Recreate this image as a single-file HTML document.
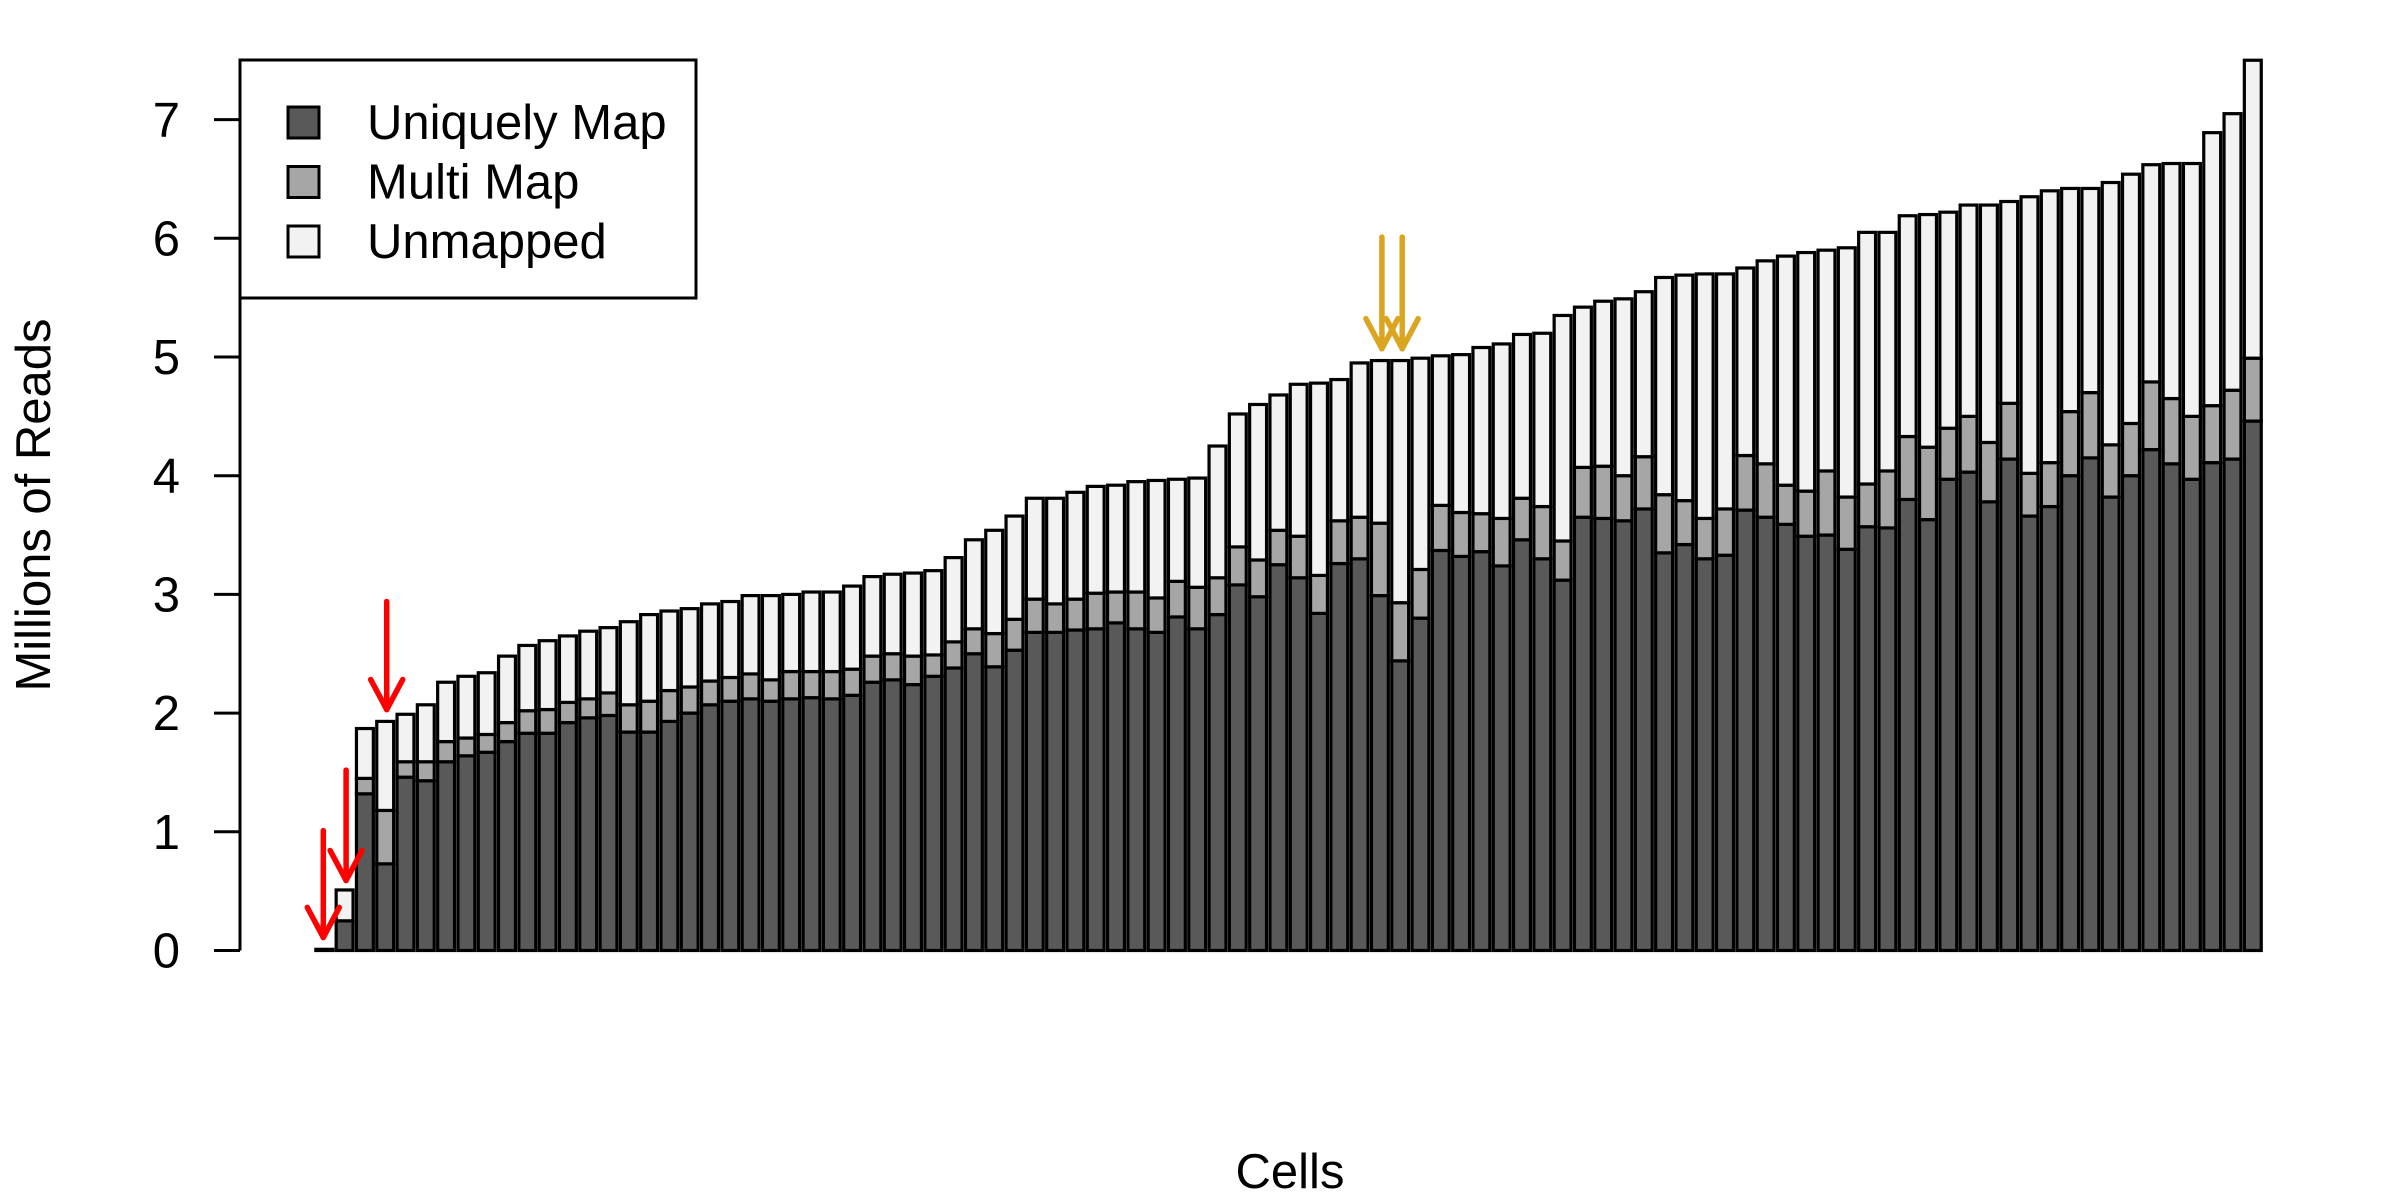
<!DOCTYPE html>
<html>
<head>
<meta charset="utf-8">
<style>
  html, body { margin: 0; padding: 0; background: #fff; }
  svg { display: block; font-family: "Liberation Sans", "DejaVu Sans", sans-serif; }
</style>
</head>
<body>
<svg id="chart" width="2400" height="1200" viewBox="0 0 2400 1200" xmlns="http://www.w3.org/2000/svg"></svg>
<script>
// ---- data (millions of reads per cell) ----
const uniquelyMap = [0.01,0.25,1.32,0.73,1.46,1.43,1.59,1.64,1.67,1.76,1.83,1.83,1.92,1.96,1.98,1.84,1.84,1.93,2.00,2.07,2.10,2.12,2.10,2.12,2.13,2.12,2.15,2.26,2.28,2.24,2.31,2.38,2.50,2.39,2.53,2.68,2.68,2.70,2.71,2.76,2.71,2.68,2.81,2.71,2.83,3.08,2.98,3.25,3.14,2.84,3.26,3.30,2.99,2.44,2.80,3.37,3.32,3.36,3.24,3.46,3.30,3.12,3.65,3.64,3.62,3.72,3.35,3.42,3.30,3.33,3.71,3.65,3.59,3.49,3.50,3.38,3.57,3.56,3.80,3.63,3.97,4.03,3.78,4.14,3.66,3.74,4.00,4.15,3.82,4.00,4.22,4.10,3.97,4.11,4.14,4.46];
const multiMap = [0,0,0.13,0.45,0.13,0.16,0.17,0.15,0.15,0.16,0.19,0.20,0.17,0.16,0.19,0.23,0.26,0.26,0.22,0.20,0.20,0.21,0.18,0.23,0.22,0.23,0.22,0.22,0.22,0.24,0.18,0.22,0.21,0.28,0.26,0.28,0.24,0.26,0.30,0.26,0.31,0.29,0.30,0.35,0.31,0.32,0.31,0.29,0.35,0.32,0.36,0.35,0.61,0.49,0.41,0.38,0.37,0.32,0.40,0.35,0.44,0.33,0.42,0.44,0.38,0.44,0.49,0.37,0.34,0.39,0.46,0.45,0.33,0.38,0.54,0.44,0.36,0.48,0.53,0.61,0.43,0.47,0.50,0.47,0.36,0.37,0.54,0.55,0.44,0.44,0.57,0.55,0.53,0.48,0.58,0.53];
const unmapped = [0,0.26,0.42,0.75,0.40,0.48,0.50,0.52,0.52,0.56,0.55,0.58,0.56,0.57,0.55,0.70,0.73,0.67,0.66,0.65,0.64,0.66,0.71,0.65,0.67,0.67,0.70,0.67,0.67,0.70,0.71,0.71,0.75,0.87,0.87,0.85,0.89,0.90,0.90,0.90,0.93,0.99,0.86,0.92,1.11,1.12,1.31,1.14,1.28,1.62,1.19,1.30,1.37,2.04,1.78,1.26,1.33,1.40,1.47,1.38,1.46,1.90,1.35,1.39,1.49,1.39,1.83,1.90,2.06,1.98,1.58,1.71,1.93,2.01,1.86,2.10,2.12,2.01,1.86,1.96,1.82,1.78,2.00,1.70,2.33,2.29,1.88,1.72,2.21,2.10,1.83,1.98,2.13,2.30,2.33,2.51];
const yTicks = [0,1,2,3,4,5,6,7];
const legendLabels = ["Uniquely Map","Multi Map","Unmapped"];
const seriesColors = ["#595959","#a6a6a6","#f2f2f2"];
const redArrowBars = [1,2,4];
const redArrowTips = [0.11,0.59,2.03];
const redArrowTails = [1.01,1.52,2.94];
const goldArrowBars = [53,54];
const goldArrowTips = [5.07,5.07];
const goldArrowTails = [6.01,6.01];

// ---- layout ----
const NS = "http://www.w3.org/2000/svg";
const svg = document.getElementById("chart");
const y0 = 950.5, pxPerUnit = 118.7;
const firstCenter = 324.3, pitch = 20.3, barW = 16.9;
const FS = 49;
function yScale(v){ return y0 - v * pxPerUnit; }
function xCenter(i){ return firstCenter + i * pitch; }
function mk(tag, attrs){ const e = document.createElementNS(NS, tag); for (const k in attrs) e.setAttribute(k, attrs[k]); svg.appendChild(e); return e; }

// bars
const series = [uniquelyMap, multiMap, unmapped];
const segNames = ["bar-uniquely-map","bar-multi-map","bar-unmapped"];
for (let i = 0; i < uniquelyMap.length; i++) {
  let base = 0;
  for (let s = 0; s < 3; s++) {
    const v = series[s][i];
    const r = mk("rect", {x: xCenter(i) - barW/2, y: yScale(base + v), width: barW, height: Math.max(0, yScale(base) - yScale(base + v)), fill: seriesColors[s], stroke: "#000", "stroke-width": 3.2});
    
    
    base += v;
  }
}

// y axis
const axis = mk("line", {x1: 240, x2: 240, y1: yScale(yTicks[0]), y2: yScale(yTicks[yTicks.length-1]), stroke: "#000", "stroke-width": 3});


yTicks.forEach(t => {
  const tk = mk("line", {x1: 214, x2: 240, y1: yScale(t), y2: yScale(t), stroke: "#000", "stroke-width": 3});
  
  
  const lb = mk("text", {x: 180, y: yScale(t) + 17, "text-anchor": "end", "font-size": FS, fill: "#000"});
  
  
  lb.textContent = t;
});

// axis titles
const yt = mk("text", {x: 0, y: 0, transform: "translate(50,505) rotate(-90)", "text-anchor": "middle", "font-size": FS, fill: "#000"});


yt.textContent = "Millions of Reads";
const xt = mk("text", {x: 1290, y: 1188, "text-anchor": "middle", "font-size": FS, fill: "#000"});


xt.textContent = "Cells";

// legend
const lg = mk("rect", {x: 240, y: 60, width: 456, height: 238, fill: "#fff", stroke: "#000", "stroke-width": 3});


legendLabels.forEach((lab, k) => {
  const cy = 122 + k * 59.5;
  const sw = mk("rect", {x: 288, y: cy - 15, width: 31, height: 31, fill: seriesColors[k], stroke: "#000", "stroke-width": 3});
  
  
  const tx = mk("text", {x: 367, y: cy + 17, "font-size": FS, fill: "#000"});
  
  
  tx.textContent = lab;
});

// arrows
function arrow(barIdx, tip, tail, color, dx){
  const x = xCenter(barIdx - 1) + dx, yt = yScale(tip), yb = yScale(tail);
  const g = document.createElementNS(NS, "g");
  
  
  svg.appendChild(g);
  const mkl = (x1,y1,x2,y2) => { const l = document.createElementNS(NS, "line"); l.setAttribute("x1",x1); l.setAttribute("y1",y1); l.setAttribute("x2",x2); l.setAttribute("y2",y2); l.setAttribute("stroke",color); l.setAttribute("stroke-width",5.5); l.setAttribute("stroke-linecap","round"); g.appendChild(l); };
  mkl(x, yb, x, yt);
  mkl(x - 16, yt - 30, x, yt);
  mkl(x + 16, yt - 30, x, yt);
}
redArrowBars.forEach((b, k) => arrow(b, redArrowTips[k], redArrowTails[k], "#ff0000", k === 0 ? -1 : 1.5));
goldArrowBars.forEach((b, k) => arrow(b, goldArrowTips[k], goldArrowTails[k], "#daa520", 2));
</script>
</body>
</html>
